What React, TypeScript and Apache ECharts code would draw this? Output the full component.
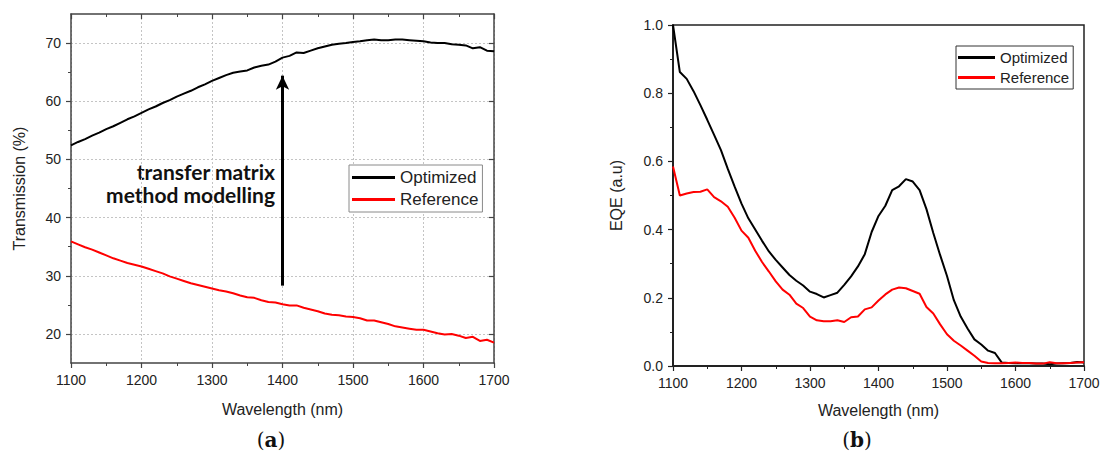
import React, { useEffect, useRef } from 'react';
import * as echarts from 'echarts';

const WAVELENGTH_NM = [
  1100, 1110, 1120, 1130, 1140, 1150, 1160, 1170, 1180, 1190,
  1200, 1210, 1220, 1230, 1240, 1250, 1260, 1270, 1280, 1290,
  1300, 1310, 1320, 1330, 1340, 1350, 1360, 1370, 1380, 1390,
  1400, 1410, 1420, 1430, 1440, 1450, 1460, 1470, 1480, 1490,
  1500, 1510, 1520, 1530, 1540, 1550, 1560, 1570, 1580, 1590,
  1600, 1610, 1620, 1630, 1640, 1650, 1660, 1670, 1680, 1690,
  1700,
];

const TRANS_OPTIMIZED = [
  52.4, 53.0, 53.5, 54.1, 54.6, 55.2, 55.7, 56.3, 56.9, 57.4,
  58.0, 58.6, 59.1, 59.7, 60.2, 60.8, 61.3, 61.8, 62.4, 62.9,
  63.5, 64.0, 64.5, 64.9, 65.1, 65.3, 65.8, 66.1, 66.3, 66.8,
  67.5, 67.8, 68.4, 68.3, 68.7, 69.1, 69.4, 69.7, 69.9, 70.0,
  70.2, 70.3, 70.5, 70.6, 70.5, 70.5, 70.6, 70.6, 70.5, 70.4,
  70.3, 70.1, 70.0, 70.0, 69.8, 69.7, 69.6, 69.1, 69.3, 68.7,
  68.6,
];

const TRANS_REFERENCE = [
  35.9, 35.4, 34.9, 34.5, 34.0, 33.5, 33.0, 32.6, 32.2, 31.9,
  31.6, 31.2, 30.8, 30.4, 29.9, 29.5, 29.1, 28.7, 28.4, 28.1,
  27.8, 27.5, 27.3, 27.0, 26.6, 26.3, 26.2, 25.8, 25.5, 25.4,
  25.1, 24.9, 24.9, 24.5, 24.2, 23.9, 23.5, 23.3, 23.2, 23.0,
  22.9, 22.7, 22.3, 22.3, 22.0, 21.7, 21.3, 21.1, 20.9, 20.7,
  20.7, 20.4, 20.1, 19.9, 20.0, 19.7, 19.3, 19.5, 18.8, 19.0,
  18.5,
];

const EQE_OPTIMIZED = [
  1.0, 0.862, 0.842, 0.806, 0.765, 0.722, 0.678, 0.633, 0.578, 0.526,
  0.476, 0.433, 0.4, 0.367, 0.336, 0.311, 0.289, 0.267, 0.25, 0.236,
  0.218, 0.211, 0.201, 0.208, 0.215, 0.238, 0.263, 0.292, 0.328, 0.393,
  0.44, 0.47, 0.516, 0.527, 0.548, 0.541, 0.516, 0.46, 0.39, 0.325,
  0.264, 0.193, 0.145, 0.11, 0.078, 0.063, 0.045, 0.038, 0.01, 0.009,
  0.008, 0.009, 0.008, 0.007, 0.007, 0.005, 0.007, 0.008, 0.009, 0.012,
  0.01,
];

const EQE_REFERENCE = [
  0.585, 0.5, 0.506, 0.51, 0.511, 0.518, 0.495, 0.483, 0.467, 0.435,
  0.397, 0.376, 0.338, 0.305, 0.277, 0.248, 0.224, 0.209, 0.183, 0.17,
  0.145, 0.134, 0.131, 0.131, 0.134, 0.129, 0.143, 0.145, 0.166, 0.172,
  0.192, 0.21, 0.224, 0.23, 0.228, 0.22, 0.212, 0.173, 0.154, 0.122,
  0.093, 0.074, 0.06, 0.045, 0.03, 0.013, 0.009, 0.008, 0.008, 0.009,
  0.01, 0.009, 0.009, 0.007, 0.007, 0.011, 0.008, 0.008, 0.009, 0.01,
  0.011,
];

const TRANS_TICKS = [20, 30, 40, 50, 60, 70];
const TRANS_MINOR_TICKS = [25, 35, 45, 55, 65];
const LEGEND_NAMES = ['Optimized', 'Reference'];
const ANNOTATION_LINES = ['transfer matrix', 'method modelling'];
const ARROW_X = 1400;
const ARROW_FROM = 28.3;
const ARROW_TO = 64.4;

const SANS = 'Liberation Sans, Arial, sans-serif';
const AXIS_DARK = '#222';
const AXIS_GRAY = '#444';

const zip = (xs: number[], ys: number[]) => xs.map((x, i) => [x, ys[i]]);

const labelStyle = { color: '#222', fontSize: 14, fontFamily: SANS };
const nameStyle = { color: '#222', fontSize: 16, fontFamily: SANS };
const plainNum = (v: number) => String(v);

function buildOption(): any {
  return {
    animation: false,
    backgroundColor: '#fff',
    grid: [
      { left: 71, top: 14, width: 423, height: 349 },
      {
        left: 673, top: 25, width: 411, height: 341,
        show: true, borderColor: AXIS_DARK, borderWidth: 1.5, backgroundColor: 'transparent',
      },
    ],
    xAxis: [
      {
        gridIndex: 0, type: 'value', position: 'bottom', min: 1100, max: 1700, interval: 100,
        axisLine: { show: true, onZero: false, lineStyle: { color: AXIS_GRAY, width: 1.5 } },
        axisTick: { show: true, length: 5, lineStyle: { color: AXIS_GRAY, width: 1.2 } },
        minorTick: { show: true, splitNumber: 2, length: 3, lineStyle: { color: AXIS_GRAY, width: 1 } },
        axisLabel: { margin: 10, formatter: plainNum, ...labelStyle },
        splitLine: { show: true, lineStyle: { color: '#c4c4c4', width: 1, type: [2, 2] } },
        name: 'Wavelength (nm)', nameLocation: 'middle', nameGap: 38, nameTextStyle: nameStyle,
      },
      {
        gridIndex: 0, type: 'value', position: 'top', min: 1100, max: 1700, interval: 100,
        axisLine: { show: true, onZero: false, lineStyle: { color: AXIS_GRAY, width: 1.5 } },
        axisTick: { show: true, inside: true, length: 5, lineStyle: { color: AXIS_GRAY, width: 1.2 } },
        minorTick: { show: true, splitNumber: 2, length: 3, lineStyle: { color: AXIS_GRAY, width: 1 } },
        axisLabel: { show: false },
        splitLine: { show: false },
      },
      {
        gridIndex: 1, type: 'value', position: 'bottom', min: 1100, max: 1700, interval: 100,
        axisLine: { show: true, onZero: false, lineStyle: { color: AXIS_DARK, width: 2 } },
        axisTick: { show: true, length: 5, lineStyle: { color: AXIS_DARK, width: 1.2 } },
        minorTick: { show: true, splitNumber: 2, length: 3, lineStyle: { color: AXIS_DARK, width: 1 } },
        axisLabel: { margin: 10, formatter: plainNum, ...labelStyle },
        splitLine: { show: false },
        name: 'Wavelength (nm)', nameLocation: 'middle', nameGap: 36, nameTextStyle: nameStyle,
      },
    ],
    yAxis: [
      {
        gridIndex: 0, type: 'value', position: 'left', min: 15, max: 75,
        axisLine: { show: true, onZero: false, lineStyle: { color: AXIS_GRAY, width: 1.5 } },
        axisTick: { show: true, length: 5, customValues: TRANS_TICKS, lineStyle: { color: AXIS_GRAY, width: 1.2 } },
        axisLabel: { margin: 10, customValues: TRANS_TICKS, ...labelStyle },
        splitLine: { show: true, lineStyle: { color: '#c4c4c4', width: 1, type: [2, 2] } },
        name: 'Transmission (%)', nameLocation: 'middle', nameGap: 44, nameRotate: 90, nameTextStyle: nameStyle,
      },
      {
        gridIndex: 0, type: 'value', position: 'left', min: 15, max: 75,
        axisLine: { show: false },
        axisTick: { show: true, length: 3, customValues: TRANS_MINOR_TICKS, lineStyle: { color: AXIS_GRAY, width: 1 } },
        axisLabel: { show: false },
        splitLine: { show: false },
      },
      {
        gridIndex: 0, type: 'value', position: 'right', min: 15, max: 75,
        axisLine: { show: true, onZero: false, lineStyle: { color: AXIS_GRAY, width: 1.5 } },
        axisTick: { show: true, inside: true, length: 5, customValues: TRANS_TICKS, lineStyle: { color: AXIS_GRAY, width: 1.2 } },
        axisLabel: { show: false },
        splitLine: { show: false },
      },
      {
        gridIndex: 1, type: 'value', position: 'left', min: 0, max: 1, interval: 0.2,
        axisLine: { show: true, onZero: false, lineStyle: { color: AXIS_DARK, width: 2 } },
        axisTick: { show: true, length: 5, lineStyle: { color: AXIS_DARK, width: 1.2 } },
        minorTick: { show: true, splitNumber: 2, length: 3, lineStyle: { color: AXIS_DARK, width: 1 } },
        axisLabel: { margin: 10, formatter: (v: number) => v.toFixed(1), ...labelStyle },
        splitLine: { show: false },
        name: 'EQE (a.u)', nameLocation: 'middle', nameGap: 49, nameRotate: 90, nameTextStyle: nameStyle,
      },
    ],
    legend: [
      {
        data: LEGEND_NAMES, orient: 'vertical', left: 349, top: 165,
        icon: 'rect', itemWidth: 43, itemHeight: 3, itemGap: 5,
        padding: [4, 4, 4, 3], borderColor: '#8a8a8a', borderWidth: 1, backgroundColor: '#fff',
        selectedMode: false,
        textStyle: { fontSize: 17, color: '#222', fontFamily: SANS },
      },
      {
        data: LEGEND_NAMES, orient: 'vertical', left: 956, top: 46,
        icon: 'rect', itemWidth: 37, itemHeight: 3, itemGap: 5,
        padding: [4, 4, 4, 2], borderColor: '#333', borderWidth: 1, backgroundColor: '#fff',
        selectedMode: false,
        textStyle: { fontSize: 15, color: '#222', fontFamily: SANS },
      },
    ],
    series: [
      {
        name: 'Optimized', type: 'line', xAxisIndex: 0, yAxisIndex: 0,
        data: zip(WAVELENGTH_NM, TRANS_OPTIMIZED), showSymbol: false, symbol: 'none',
        color: '#000', lineStyle: { color: '#000', width: 2 }, z: 3,
        markLine: {
          silent: true, symbol: ['none', 'arrow'], symbolSize: [10, 14],
          lineStyle: { color: '#000', width: 3, type: 'solid' },
          label: { show: false },
          data: [[{ coord: [ARROW_X, ARROW_FROM] }, { coord: [ARROW_X, ARROW_TO] }]],
        },
      },
      {
        name: 'Reference', type: 'line', xAxisIndex: 0, yAxisIndex: 0,
        data: zip(WAVELENGTH_NM, TRANS_REFERENCE), showSymbol: false, symbol: 'none',
        color: '#ff0000', lineStyle: { color: '#ff0000', width: 2 }, z: 3,
      },
      {
        name: 'Optimized', type: 'line', xAxisIndex: 2, yAxisIndex: 3,
        data: zip(WAVELENGTH_NM, EQE_OPTIMIZED), showSymbol: false, symbol: 'none',
        color: '#000', lineStyle: { color: '#000', width: 2 }, z: 3,
      },
      {
        name: 'Reference', type: 'line', xAxisIndex: 2, yAxisIndex: 3,
        data: zip(WAVELENGTH_NM, EQE_REFERENCE), showSymbol: false, symbol: 'none',
        color: '#ff0000', lineStyle: { color: '#ff0000', width: 2 }, z: 3,
      },
    ],
    graphic: [
      {
        type: 'text', x: 275, y: 171,
        style: {
          text: ANNOTATION_LINES[0], fill: '#111', fontFamily: 'Lato', fontWeight: 'bold', fontSize: 21,
          align: 'right', verticalAlign: 'middle', textAlign: 'right', textVerticalAlign: 'middle',
        },
      },
      {
        type: 'text', x: 275, y: 194,
        style: {
          text: ANNOTATION_LINES[1], fill: '#111', fontFamily: 'Lato', fontWeight: 'bold', fontSize: 21,
          align: 'right', verticalAlign: 'middle', textAlign: 'right', textVerticalAlign: 'middle',
        },
      },
      {
        type: 'text', x: 271, y: 440,
        style: {
          text: '{p|(}{b|a}{p|)}', fill: '#111',
          align: 'center', verticalAlign: 'middle', textAlign: 'center', textVerticalAlign: 'middle',
          rich: {
            p: { fontFamily: 'DejaVu Serif', fontSize: 20, fill: '#111' },
            b: { fontFamily: 'DejaVu Serif', fontWeight: 'bold', fontSize: 20, fill: '#111' },
          },
        },
      },
      {
        type: 'text', x: 857, y: 440,
        style: {
          text: '{p|(}{b|b}{p|)}', fill: '#111',
          align: 'center', verticalAlign: 'middle', textAlign: 'center', textVerticalAlign: 'middle',
          rich: {
            p: { fontFamily: 'DejaVu Serif', fontSize: 20, fill: '#111' },
            b: { fontFamily: 'DejaVu Serif', fontWeight: 'bold', fontSize: 20, fill: '#111' },
          },
        },
      },
    ],
  };
}

export default function App() {
  const ref = useRef<HTMLDivElement | null>(null);
  useEffect(() => {
    document.body.style.margin = '0';
    if (!ref.current) return;
    const chart = echarts.init(ref.current, undefined, { renderer: 'svg' });
    chart.setOption(buildOption());
    return () => chart.dispose();
  }, []);
  return <div ref={ref} style={{ width: 1117, height: 457 }} />;
}
